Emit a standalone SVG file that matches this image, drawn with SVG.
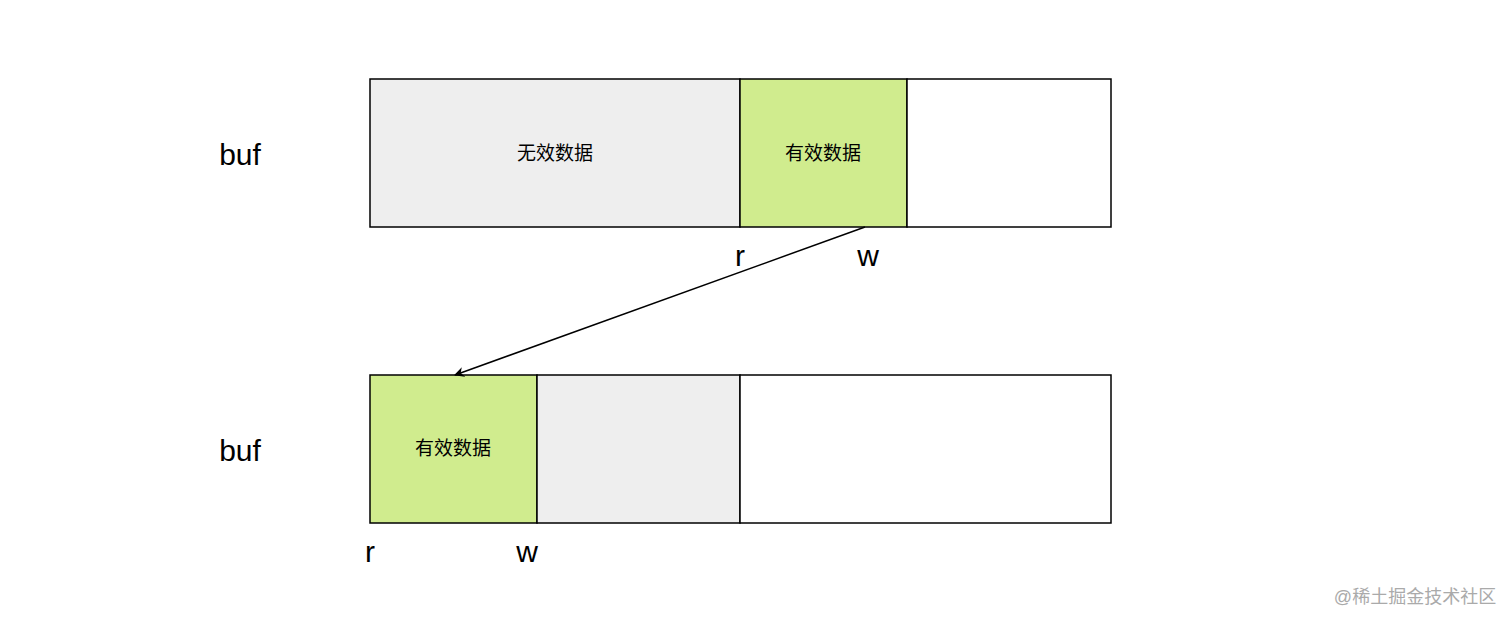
<svg xmlns="http://www.w3.org/2000/svg" width="1512" height="626" viewBox="0 0 1512 626">
<style>
.b{stroke:#000;stroke-width:1.5}
.g{fill:#eeeeee}.v{fill:#d0ec8e}.w{fill:#fff}
.t{font-family:"Liberation Sans","Noto Sans CJK SC",sans-serif;font-size:19px;text-anchor:middle;fill:#000}
.l{font-family:"Liberation Sans",sans-serif;font-size:30px;text-anchor:middle;fill:#000}
</style>
<defs><marker id="a" markerWidth="10" markerHeight="10" refX="9" refY="5" orient="auto" markerUnits="userSpaceOnUse"><path d="M0,0 L10,5 L0,10 L3,5z" fill="#000"/></marker></defs>
<rect width="1512" height="626" fill="#fff"/>
<g id="top">
<rect class="b g" x="370" y="79" width="370" height="148"/>
<rect class="b v" x="740" y="79" width="167" height="148"/>
<rect class="b w" x="907" y="79" width="204" height="148"/>
<text class="t" x="555" y="160">无效数据</text>
<text class="t" x="823" y="160">有效数据</text>
<text class="l" x="240" y="165">buf</text>
<text class="l" x="740" y="266">r</text>
<text class="l" x="868" y="266">w</text>
</g>
<g id="bottom">
<rect class="b v" x="370" y="375" width="167" height="148"/>
<rect class="b g" x="537" y="375" width="203" height="148"/>
<rect class="b w" x="740" y="375" width="371" height="148"/>
<text class="t" x="453" y="455">有效数据</text>
<text class="l" x="240" y="461">buf</text>
<text class="l" x="370" y="562">r</text>
<text class="l" x="527" y="562">w</text>
</g>
<g id="connectors">
<line x1="865" y1="227" x2="455" y2="375" stroke="#000" stroke-width="1.5" marker-end="url(#a)"/>
</g>
<text x="1415" y="603" font-family="'Liberation Sans','Noto Sans CJK SC',sans-serif" font-size="18" fill="#aaa" text-anchor="middle">@稀土掘金技术社区</text>
</svg>
